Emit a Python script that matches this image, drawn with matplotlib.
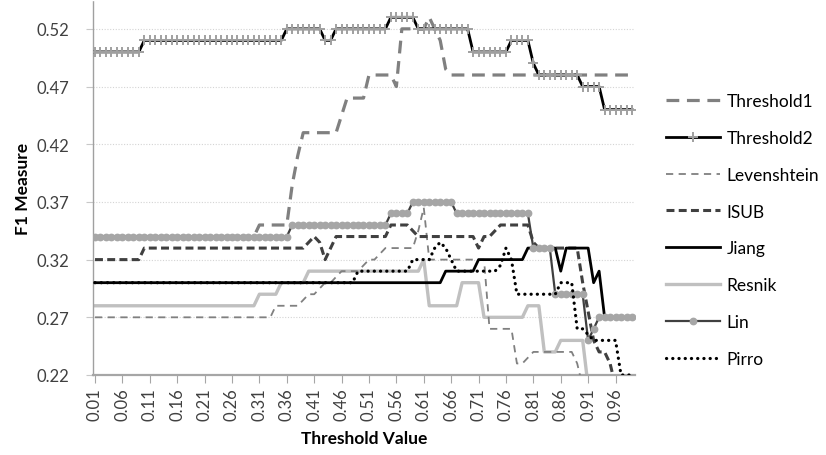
import numpy as np
import matplotlib.pyplot as plt

plt.rcParams['font.family'] = ['Lato', 'DejaVu Sans']

# x categories: threshold 0.01 .. 0.99
thresholds = np.round(np.arange(1, 100) / 100, 2)

# series values, written as (value, number of points) runs
threshold1_runs = [(0.34, 30), (0.35, 6), (0.385, 1), (0.41, 1), (0.43, 7), (0.445, 1),
                   (0.46, 4), (0.48, 5), (0.47, 1), (0.52, 5), (0.53, 1), (0.52, 1),
                   (0.51, 1), (0.485, 1), (0.48, 34)]
threshold2_runs = [(0.50, 9), (0.51, 26), (0.52, 7), (0.51, 2), (0.52, 10), (0.53, 5),
                   (0.52, 10), (0.50, 7), (0.51, 4), (0.49, 1), (0.48, 8), (0.47, 4),
                   (0.45, 6)]
levenshtein_runs = [(0.27, 33), (0.28, 5), (0.285, 1), (0.29, 2), (0.295, 1), (0.30, 2),
                    (0.305, 1), (0.31, 4), (0.315, 1), (0.32, 2), (0.325, 1), (0.33, 6),
                    (0.345, 1), (0.365, 1), (0.32, 11), (0.26, 5), (0.23, 2), (0.235, 1),
                    (0.24, 8), (0.23, 1), (0.21, 10)]
isub_runs = [(0.32, 9), (0.33, 30), (0.335, 1), (0.34, 1), (0.335, 1), (0.32, 1),
             (0.33, 1), (0.34, 10), (0.35, 4), (0.345, 1), (0.34, 11), (0.33, 1),
             (0.34, 2), (0.345, 1), (0.35, 6), (0.335, 1), (0.33, 8), (0.30, 1),
             (0.275, 1), (0.25, 1), (0.24, 2), (0.23, 1), (0.21, 4)]
jiang_runs = [(0.30, 64), (0.31, 6), (0.32, 9), (0.33, 6), (0.31, 1), (0.33, 5),
              (0.30, 1), (0.31, 1), (0.27, 6)]
resnik_runs = [(0.28, 30), (0.29, 4), (0.30, 5), (0.31, 21), (0.32, 1), (0.28, 6),
               (0.30, 4), (0.27, 8), (0.28, 3), (0.24, 3), (0.25, 5), (0.21, 9)]
lin_runs = [(0.34, 36), (0.35, 18), (0.36, 4), (0.37, 8), (0.36, 14), (0.33, 4),
            (0.29, 6), (0.25, 1), (0.26, 1), (0.27, 7)]
pirro_runs = [(0.30, 48), (0.31, 10), (0.32, 4), (0.33, 1), (0.335, 1), (0.33, 1),
              (0.32, 1), (0.31, 8), (0.315, 1), (0.33, 1), (0.32, 1), (0.29, 8),
              (0.30, 3), (0.26, 2), (0.255, 1), (0.25, 5), (0.22, 3)]

y_ticks = [0.22, 0.27, 0.32, 0.37, 0.42, 0.47, 0.52]


def expand(runs):
    vals = []
    for v, n in runs:
        vals += [v] * n
    return np.array(vals)


fig = plt.figure(figsize=(8.26, 4.56), dpi=100)
ax = fig.add_axes([93 / 826, 1 - 376 / 456, (635 - 93) / 826, 375 / 456])

ax.plot(thresholds, expand(threshold1_runs), color='#808080', lw=2.3,
        dashes=(4, 2.4), label='Threshold1', zorder=3)
ax.plot(thresholds, expand(threshold2_runs), color='black', lw=2.0,
        marker='+', ms=6.5, mec='#a0a0a0', mew=1.4, label='Threshold2', zorder=4)
ax.plot(thresholds, expand(levenshtein_runs), color='#808080', lw=1.3,
        dashes=(4, 3), label='Levenshtein', zorder=3)
ax.plot(thresholds, expand(isub_runs), color='#404040', lw=2.2,
        dashes=(2.6, 1.4), label='ISUB', zorder=3)
ax.plot(thresholds, expand(jiang_runs), color='black', lw=2.0,
        label='Jiang', zorder=4)
ax.plot(thresholds, expand(resnik_runs), color='#c0c0c0', lw=2.4,
        label='Resnik', zorder=2.5)
ax.plot(thresholds, expand(lin_runs), color='#404040', lw=1.6,
        marker='o', ms=4.6, mfc='#a6a6a6', mec='#a6a6a6', label='Lin', zorder=5)
ax.plot(thresholds, expand(pirro_runs), color='black', lw=2.3,
        linestyle=(0, (0.05, 1.9)), dash_capstyle='round', label='Pirro', zorder=6)

ax.set_xlim(0.00635, 0.9955)
ax.set_ylim(0.22, 0.545)
ax.set_yticks(y_ticks)
ax.set_yticklabels([f'{v:.2f}' for v in y_ticks])
ax.set_xticks(thresholds[::5])
ax.set_xticklabels([f'{v:.2f}' for v in thresholds[::5]], rotation=90)
ax.tick_params(axis='both', labelsize=12, labelcolor='#404040')
ax.tick_params(axis='x', direction='out', length=6, color='#a6a6a6', pad=3)
ax.tick_params(axis='y', direction='out', length=5, color='#c8c8c8', pad=12)

ax.yaxis.grid(True, linestyle=(0, (1, 1.5)), color='#d4d4d4', lw=0.8)
ax.set_axisbelow(True)
for s in ['top', 'right']:
    ax.spines[s].set_visible(False)
ax.spines['left'].set_linestyle((0, (1, 1)))
ax.spines['left'].set_color('#a0a0a0')
ax.spines['left'].set_linewidth(1.0)
ax.spines['bottom'].set_color('#a6a6a6')
ax.spines['bottom'].set_linewidth(1.6)

ax.set_xlabel('Threshold Value', fontsize=12.5, fontweight='bold', labelpad=7)
ax.set_ylabel('F1 Measure', fontsize=12.5, fontweight='bold', labelpad=4)

fig.legend(handles=ax.get_lines(), loc='upper left',
           bbox_to_anchor=(666 / 826, 1 - 94 / 456), frameon=False,
           fontsize=12.5, handlelength=3.1, handletextpad=0.4,
           labelspacing=1.2, borderpad=0, borderaxespad=0)

fig.savefig('out.png', dpi=100)
